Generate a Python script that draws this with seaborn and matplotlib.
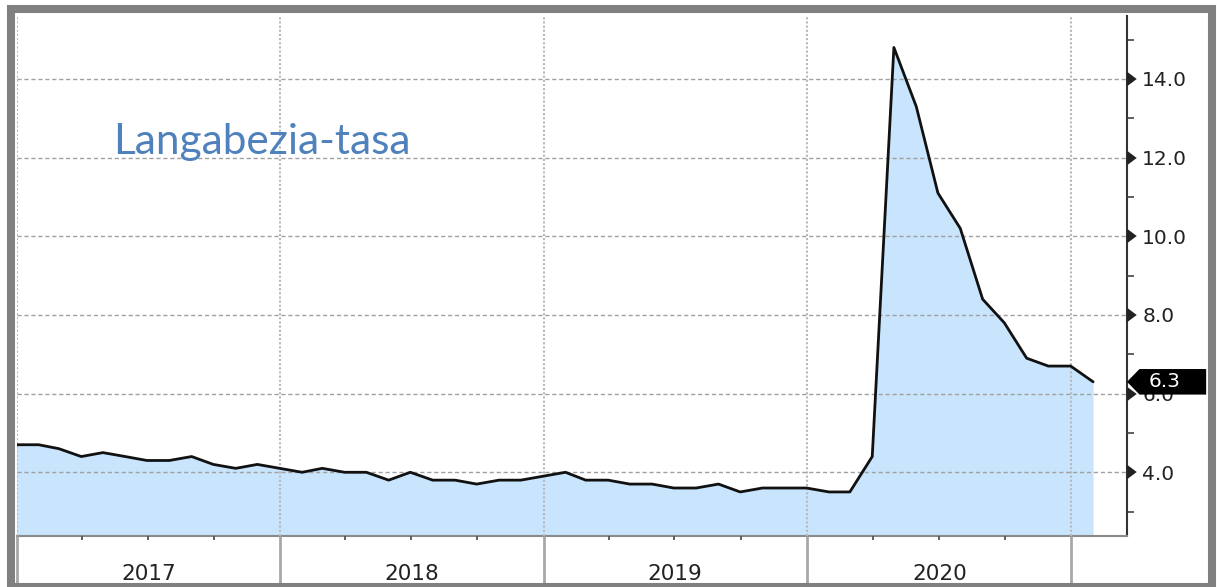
import numpy as np
import pandas as pd
import seaborn as sns
import matplotlib.pyplot as plt
import matplotlib.dates as mdates
import matplotlib.ticker as ticker
import matplotlib.markers as mmarkers
import matplotlib.transforms as mtransforms
from matplotlib.patches import Rectangle, Polygon

# Datos (tasa mensual, fin de mes)
start_month = '2016-12-31'
rate = [4.7,
        4.7, 4.6, 4.4, 4.5, 4.4, 4.3, 4.3, 4.4, 4.2, 4.1, 4.2, 4.1,
        4.0, 4.1, 4.0, 4.0, 3.8, 4.0, 3.8, 3.8, 3.7, 3.8, 3.8, 3.9,
        4.0, 3.8, 3.8, 3.7, 3.7, 3.6, 3.6, 3.7, 3.5, 3.6, 3.6, 3.6,
        3.5, 3.5, 4.4, 14.8, 13.3, 11.1, 10.2, 8.4, 7.8, 6.9, 6.7, 6.7,
        6.3]
year_labels = ['2017', '2018', '2019', '2020']
title_text = 'Langabezia-tasa'

dates = pd.date_range(start_month, periods=len(rate), freq='ME')
df = pd.DataFrame({'fecha': dates, 'tasa': rate})

sns.set_style('white')
plt.rcParams['font.family'] = ['DejaVu Sans']

fig = plt.figure(figsize=(12.17, 5.87), dpi=100)
ax = fig.add_axes([17 / 1217, 51 / 587, 1110 / 1217, 520 / 587])

y_bottom, y_top = 2.38, 15.6
ax.set_ylim(y_bottom, y_top)
ax.set_xlim(pd.Timestamp('2017-01-01'), pd.Timestamp('2021-03-19'))

# Area + linea
ax.fill_between(df['fecha'], df['tasa'], y_bottom, color='#c8e5fd', lw=0, zorder=1)
sns.lineplot(data=df, x='fecha', y='tasa', ax=ax, color='#111111', lw=2.0, zorder=3)
ax.set_xlabel('')
ax.set_ylabel('')

# Ejes
for s in ['left', 'top']:
    ax.spines[s].set_visible(False)
ax.spines['right'].set_color('#333333')
ax.spines['right'].set_linewidth(1.5)
ax.spines['bottom'].set_color('#8a8a8a')
ax.spines['bottom'].set_linewidth(1.5)

# Eje Y a la derecha
ax.yaxis.tick_right()
ax.yaxis.set_major_locator(ticker.MultipleLocator(2))
ax.yaxis.set_minor_locator(ticker.MultipleLocator(1))
ax.yaxis.set_major_formatter(ticker.FormatStrFormatter('%.1f'))
ax.tick_params(axis='y', which='major', right=True, left=False, length=8, width=1.5,
               color='#222222', pad=3, labelsize=14.5, labelcolor='#222222')
ax.tick_params(axis='y', which='minor', right=True, left=False, length=5, width=1.2,
               color='#444444')
for t in ax.yaxis.get_major_ticks():
    t.tick2line.set_marker(mmarkers.CARETRIGHTBASE)
    t.tick2line.set_markersize(8)

# Eje X: separadores anuales y marcas trimestrales
ax.xaxis.set_major_locator(mdates.YearLocator())
ax.xaxis.set_minor_locator(mdates.MonthLocator(bymonth=[4, 7, 10]))
ax.xaxis.set_major_formatter(ticker.NullFormatter())
ax.tick_params(axis='x', which='major', bottom=True, length=34, width=2,
               color='#a8a8a8', direction='out')
ax.tick_params(axis='x', which='minor', bottom=True, length=3, width=1.3,
               color='#555555', direction='out')

for i, lab in enumerate(year_labels):
    mid = pd.Timestamp(f'{lab}-07-02')
    ax.text(mid, -0.073, lab, transform=ax.get_xaxis_transform(), ha='center',
            va='center', fontsize=15.5, color='#222222')

# Rejilla
ax.xaxis.grid(True, which='major', linestyle=(0, (1, 1)), color='#b8b8b8', lw=1.5)
ax.yaxis.grid(True, which='major', linestyle=(0, (3, 2)), color='#a0a0a0', lw=1)
ax.set_axisbelow(False)
for gl in ax.get_xgridlines() + ax.get_ygridlines():
    gl.set_zorder(2)

# Etiqueta del ultimo valor
last = rate[-1]
tr = mtransforms.Affine2D().scale(fig.dpi / 72.0) + \
    mtransforms.ScaledTranslation(1, last, ax.get_yaxis_transform())
tag = Polygon([(0, 0), (9, 9.2), (57, 9.2), (57, -9.2), (9, -9.2)], closed=True,
              transform=tr, facecolor='black', edgecolor='none', clip_on=False, zorder=6)
ax.add_artist(tag)
ax.annotate(f'{last:.1f}', xy=(1, last), xycoords=ax.get_yaxis_transform(),
            xytext=(27, 0), textcoords='offset points', ha='center', va='center',
            color='white', fontsize=14.5, annotation_clip=False, zorder=7)

# Titulo
ax.text(0.0865, 0.734, title_text, transform=ax.transAxes, ha='left', va='baseline',
        fontsize=30.5, color='#4f81bd', family=['Lato', 'DejaVu Sans'], zorder=4)

# Marco gris
fig.patches.append(Rectangle((10.5 / 1217, 0), (1212 - 10.5) / 1217, 578 / 587,
                             transform=fig.transFigure, fill=False,
                             edgecolor='#808080', lw=5.8, zorder=10))

fig.savefig('out.png', dpi=100)
